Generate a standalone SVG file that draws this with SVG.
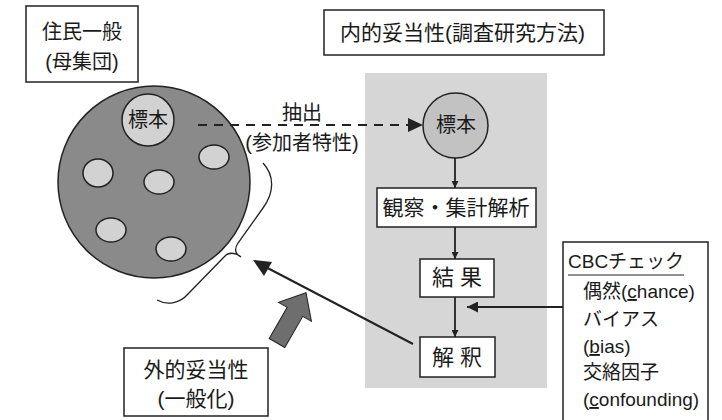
<svg xmlns="http://www.w3.org/2000/svg" width="722" height="420" viewBox="0 0 722 420">
<style>
text{font-family:"Liberation Sans","Noto Sans CJK JP",sans-serif;fill:#1a1a1a;}
.t21{font-size:21px;}
.t20{font-size:20px;}
.t19{font-size:19px;}
.box{fill:#fff;stroke:#222;stroke-width:1.5;}
.ln{stroke:#222;stroke-width:1.8;fill:none;}
.sm{fill:#d2d2d2;stroke:#222;stroke-width:1.5;}
</style>
<defs>
<marker id="ah" viewBox="0 0 10 10" refX="10" refY="5" markerWidth="7" markerHeight="7" markerUnits="userSpaceOnUse" orient="auto">
<path d="M0,0 L10,5 L0,10 Z" fill="#222"/>
</marker>
<marker id="ahL" viewBox="0 0 10 10" refX="10" refY="5" markerWidth="11" markerHeight="11" markerUnits="userSpaceOnUse" orient="auto">
<path d="M0,0 L10,5 L0,10 Z" fill="#222"/>
</marker>
</defs>

<rect x="0" y="0" width="722" height="420" fill="#fff"/>

<g id="internal-area">
<rect x="365" y="73" width="182" height="315" fill="#d6d6d6"/>
</g>

<g id="population-label">
<rect class="box" x="26" y="6" width="112" height="76"/>
<text class="t20" x="82" y="39" text-anchor="middle">住民一般</text>
<text class="t20" x="82" y="69" text-anchor="middle">(母集団)</text>
</g>

<g id="population">
<circle cx="154" cy="182" r="96" fill="#8a8a8a" stroke="#222" stroke-width="1.5"/>
<circle class="sm" cx="148" cy="120" r="26"/>
<text class="t20" x="148" y="127" text-anchor="middle">標本</text>
<ellipse class="sm" cx="214" cy="157" rx="15" ry="12"/>
<ellipse class="sm" cx="98" cy="173" rx="15" ry="14"/>
<ellipse class="sm" cx="159" cy="182" rx="15" ry="12"/>
<ellipse class="sm" cx="111" cy="230" rx="15" ry="12"/>
<ellipse class="sm" cx="171" cy="249" rx="15" ry="12"/>
</g>

<g id="title">
<rect class="box" x="324" y="10" width="280" height="45"/>
<text class="t21" x="340" y="40">内的妥当性(調査研究方法)</text>
</g>

<g id="sample">
<circle cx="455.5" cy="125.5" r="32.5" fill="#c2c2c2" stroke="#222" stroke-width="1.5"/>
<text class="t20" x="456" y="132" text-anchor="middle">標本</text>
</g>

<g id="analysis">
<rect class="box" x="377" y="188" width="159" height="39"/>
<text class="t21" x="456" y="215" text-anchor="middle">観察・集計解析</text>
</g>

<g id="result">
<rect class="box" x="420" y="259" width="74" height="38"/>
<text x="457" y="285" text-anchor="middle" style="font-size:22px">結 果</text>
</g>

<g id="interpretation">
<rect class="box" x="420" y="337" width="75" height="40"/>
<text x="457" y="365" text-anchor="middle" style="font-size:22px">解 釈</text>
</g>

<g id="external-label">
<rect class="box" x="124" y="348" width="144" height="68"/>
<text class="t21" x="196" y="377" text-anchor="middle">外的妥当性</text>
<text class="t21" x="196" y="406" text-anchor="middle">(一般化)</text>
</g>

<g id="cbc">
<rect class="box" x="563" y="242" width="145" height="190"/>
<text class="t19" x="568" y="268">CBCチェック</text>
<line x1="568" y1="275" x2="684" y2="275" stroke="#222" stroke-width="1.2"/>
<text class="t19" x="583" y="298">偶然(<tspan text-decoration="underline">c</tspan>hance)</text>
<text class="t19" x="583" y="326">バイアス</text>
<text class="t19" x="583" y="353">(<tspan text-decoration="underline">b</tspan>ias)</text>
<text class="t19" x="583" y="379">交絡因子</text>
<text class="t19" x="583" y="406">(<tspan text-decoration="underline">c</tspan>onfounding)</text>
</g>

<g id="extraction-label">
<text class="t20" x="302" y="120" text-anchor="middle">抽出</text>
<text class="t20" x="302" y="150" text-anchor="middle">(参加者特性)</text>
</g>

<g id="connectors">
<line x1="198" y1="125" x2="410" y2="125" stroke="#222" stroke-width="1.8" stroke-dasharray="9,7"/>
<path d="M408,118 L423,125 L408,132 Z" fill="#222"/>
<line class="ln" x1="455" y1="158" x2="455" y2="188" marker-end="url(#ah)"/>
<line class="ln" x1="455" y1="227" x2="455" y2="259" marker-end="url(#ah)"/>
<line class="ln" x1="455" y1="297" x2="455" y2="337" marker-end="url(#ah)"/>
<line class="ln" x1="563" y1="307" x2="467" y2="307" marker-end="url(#ahL)"/>
<line x1="413" y1="344" x2="258" y2="263" stroke="#222" stroke-width="2"/>
<path d="M253,260 L272,262 L264,276 Z" fill="#222"/>
<path class="ln" style="stroke-width:1.3" d="M263,163 C275,176 274,193 263,208 L238,243 C234,249 235,254 241,257 C235,252 228,252 224,257 L188,294 C180,303 168,306 157,300"/>
<g transform="translate(277,343) rotate(-60)">
<path d="M0,-9 L36,-9 L36,-19 L58,0 L36,19 L36,9 L0,9 Z" fill="#6e6e6e" stroke="#222" stroke-width="1"/>
</g>
</g>
</svg>
